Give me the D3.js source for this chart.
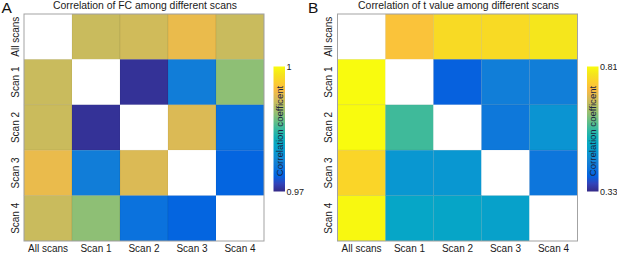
<!DOCTYPE html>
<html>
<head>
<meta charset="utf-8">
<script src="https://cdn.jsdelivr.net/npm/d3@7"></script>
<style>
  html, body { margin: 0; padding: 0; background: #fff; }
  svg { display: block; font-family: "Liberation Sans", Arial, sans-serif; }
</style>
</head>
<body>
<svg id="chart" width="617" height="254"></svg>
<script>
// ---------- data ----------
const labels = ["All scans", "Scan 1", "Scan 2", "Scan 3", "Scan 4"];
const titleA = "Correlation of FC among different scans";
const titleB = "Correlation of t value among different scans";
const colorbarLabel = "Correlation coefficent";
const domainA = [0.97, 1];
const domainB = [0.33, 0.81];
const tickLabelsA = ["0.97", "1"];
const tickLabelsB = ["0.33", "0.81"];
// rows top to bottom (All scans .. Scan 4), columns left to right; null = diagonal (blank)
const valuesA = [
  [null,   0.9916, 0.9920, 0.9935, 0.9916],
  [0.9916, null,   0.9706, 0.9766, 0.9886],
  [0.9917, 0.9706, null,   0.9926, 0.9751],
  [0.9935, 0.9766, 0.9926, null,   0.9740],
  [0.9916, 0.9886, 0.9753, 0.9740, null  ]
];
const valuesB = [
  [null,  0.733, 0.767, 0.767, 0.782],
  [0.810, null,  0.388, 0.436, 0.436],
  [0.810, 0.575, null,  0.426, 0.474],
  [0.760, 0.479, 0.479, null,  0.421],
  [0.806, 0.508, 0.506, 0.498, null ]
];

// ---------- parula colormap ----------
const parulaStops = [
  [0.2081,0.1663,0.5292],[0.1959,0.2645,0.7279],[0.0117,0.3875,0.8820],[0.0498,0.4586,0.8641],
  [0.0793,0.5200,0.8312],[0.0343,0.5966,0.8199],[0.0228,0.6535,0.7768],[0.0843,0.6928,0.7062],
  [0.2178,0.7250,0.6193],[0.3953,0.7459,0.5244],[0.5709,0.7485,0.4494],[0.7184,0.7411,0.3905],
  [0.8507,0.7299,0.3360],[0.9739,0.7314,0.2666],[0.9880,0.8066,0.1794],[0.9589,0.8949,0.1132],
  [0.9763,0.9831,0.0538]
].map(c => d3.rgb(c[0]*255, c[1]*255, c[2]*255).formatHex());
const parula = d3.piecewise(d3.interpolateRgb, parulaStops);

const svg = d3.select("#chart");
const defs = svg.append("defs");

function panel(opts) {
  const { x0, x1, y0, y1, values, domain, ticks, title, letter, letterX, cbX, cbY0, cbY1, id } = opts;
  const g = svg.append("g");
  const x = d3.scaleBand().domain(labels).range([x0, x1]);
  const y = d3.scaleBand().domain(labels).range([y0, y1]);
  const color = d3.scaleSequential(parula).domain(domain).clamp(true);

  const cells = [];
  values.forEach((row, i) => row.forEach((v, j) => cells.push({ r: labels[i], c: labels[j], v })));

  g.selectAll("rect.cell").data(cells).join("rect")
    .attr("class", "cell")
    .attr("x", d => x(d.c)).attr("y", d => y(d.r))
    .attr("width", x.bandwidth()).attr("height", y.bandwidth())
    .attr("fill", d => d.v == null ? "#ffffff" : color(d.v))
    .attr("stroke", d => d.v == null ? "none" : "rgba(0,0,0,0.07)")
    .attr("stroke-width", 0.8);

  // axes box
  g.append("rect").attr("x", x0).attr("y", y0).attr("width", x1 - x0).attr("height", y1 - y0)
    .attr("fill", "none").attr("stroke", "#a3a3a3").attr("stroke-width", 1);

  // x labels
  g.selectAll("text.xl").data(labels).join("text")
    .attr("class", "xl")
    .attr("x", d => x(d) + x.bandwidth() / 2).attr("y", 252.3)
    .attr("text-anchor", "middle").attr("font-size", 10).attr("fill", "#1a1a1a")
    .text(d => d);

  // y labels
  g.selectAll("text.yl").data(labels).join("text")
    .attr("class", "yl")
    .attr("transform", d => `translate(${x0 - 5.5},${y(d) + y.bandwidth() / 2}) rotate(-90)`)
    .attr("text-anchor", "middle").attr("font-size", 10).attr("fill", "#1a1a1a")
    .text(d => d);

  // title
  g.append("text").attr("x", (x0 + x1) / 2 + 1).attr("y", 9)
    .attr("text-anchor", "middle").attr("font-size", 10.4).attr("fill", "#1a1a1a")
    .text(title);

  // panel letter
  g.append("text").attr("x", letterX).attr("y", 13)
    .attr("font-size", 15.5).attr("fill", "#111").text(letter);

  // colorbar
  const grad = defs.append("linearGradient").attr("id", id)
    .attr("x1", 0).attr("y1", 1).attr("x2", 0).attr("y2", 0);
  d3.range(0, 1.0001, 0.0625).forEach(t => {
    grad.append("stop").attr("offset", t).attr("stop-color", parula(t));
  });
  const cbScale = d3.scaleLinear().domain(domain).range([cbY1, cbY0]);
  g.append("rect").attr("x", cbX).attr("y", cbY0).attr("width", 11.5).attr("height", cbY1 - cbY0)
    .attr("fill", `url(#${id})`);
  g.selectAll("text.cbt").data(domain).join("text")
    .attr("class", "cbt")
    .attr("x", cbX + 13).attr("y", d => cbScale(d) + 3.5)
    .attr("font-size", 9).attr("fill", "#1a1a1a")
    .text((d, i) => ticks[i]);
  g.append("text")
    .attr("transform", `translate(${cbX + 9.3},${(cbY0 + cbY1) / 2 + 2}) rotate(-90)`)
    .attr("text-anchor", "middle").attr("font-size", 9.6).attr("fill", "#1c2440")
    .text(colorbarLabel);
}

panel({ x0: 24, x1: 264, y0: 14, y1: 241, values: valuesA, domain: domainA, ticks: tickLabelsA,
        title: titleA, letter: "A", letterX: 1.5, cbX: 273.5, cbY0: 66.5, cbY1: 191.5, id: "gradA" });
panel({ x0: 337.5, x1: 577.5, y0: 14, y1: 241, values: valuesB, domain: domainB, ticks: tickLabelsB,
        title: titleB, letter: "B", letterX: 308, cbX: 587, cbY0: 66.5, cbY1: 191.5, id: "gradB" });
</script>
</body>
</html>
